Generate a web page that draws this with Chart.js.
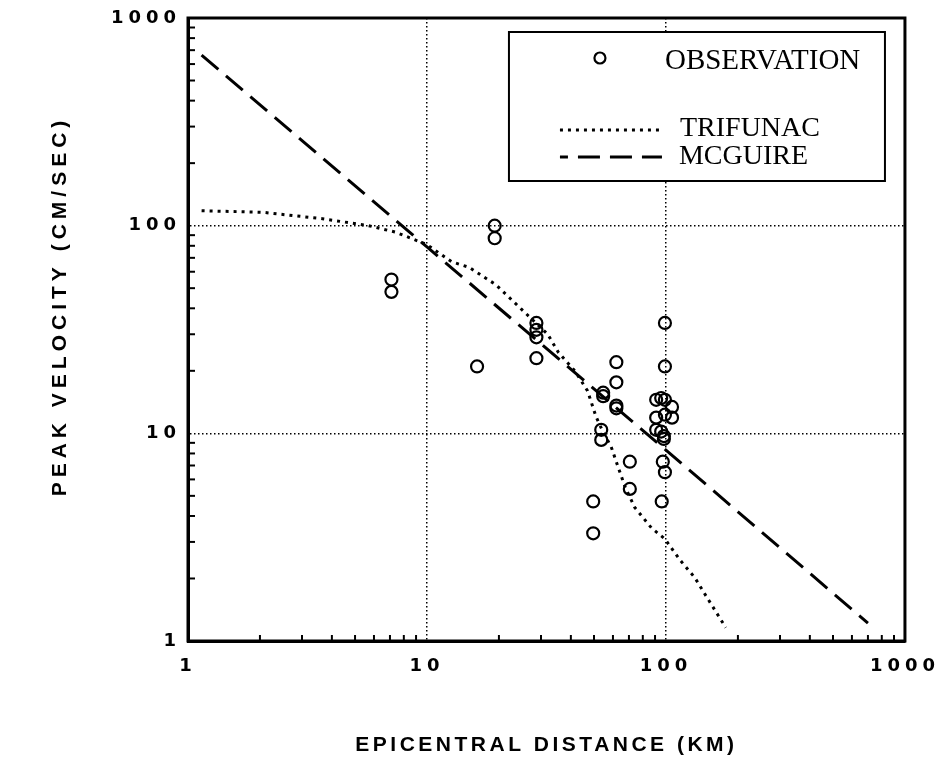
<!DOCTYPE html>
<html>
<head>
<meta charset="utf-8">
<script src="https://cdn.jsdelivr.net/npm/chart.js@4"></script>
<style>
  html, body { margin: 0; padding: 0; background: #fff; }
</style>
</head>
<body>
<canvas id="chart" width="945" height="772"></canvas>
<script>
// observed peak velocities
const obsDist = [7.1, 7.1, 19.2, 19.2, 16.2, 28.7, 28.7, 28.7, 28.7, 49.6, 49.6, 53.6, 53.6, 54.6, 54.6,
  62, 62, 62, 62, 70.6, 70.6, 99, 99, 91, 95.5, 99, 106, 91, 99, 106, 91, 95.5, 98, 98, 97, 99, 96];
const obsVel = [55, 48, 100, 87, 21, 34, 31.5, 29, 23, 4.7, 3.3, 10.4, 9.3, 15.7, 15.1,
  22, 17.6, 13.6, 13.2, 7.3, 5.4, 34, 21, 14.5, 14.8, 14.5, 13.4, 11.9, 12.3, 11.9, 10.4, 10.2, 9.7, 9.4, 7.3, 6.5, 4.7];

// attenuation relations
const trifunacDist = [1.14, 2.05, 3.65, 5.7, 7.4, 10, 12.7, 15, 19.4, 24.9, 32, 35.5, 41.8, 47, 51, 54,
  59, 63, 67.5, 74, 87, 99, 115, 132, 147, 178];
const trifunacVel = [118, 116, 108, 100, 93, 81, 67, 63, 52, 39.5, 30, 24.5, 19.8, 16, 12, 10.4,
  8.6, 6.9, 5.5, 4.4, 3.5, 3.1, 2.44, 2.02, 1.65, 1.16];
const mcguireDist = [1.14, 10, 100, 700];
const mcguireVel = [662, 79, 8.3, 1.22];

const tickValues = [1, 10, 100, 1000];
const seriesNames = ["OBSERVATION", "TRIFUNAC", "MCGUIRE"];
const xTitle = "EPICENTRAL DISTANCE (KM)";
const yTitle = "PEAK VELOCITY (CM/SEC)";

const toXY = (xs, ys) => xs.map((x, i) => ({ x: x, y: ys[i] }));

const dotDash = [3, 5];
const longDash = [22, 10];

// grid only at 10 and 100, dotted
const gridColor = (c) => (c.tick && (c.tick.value === 10 || c.tick.value === 100)) ? "#000" : "rgba(0,0,0,0)";

const paperPlugin = {
  id: "paper",
  beforeDraw(chart) {
    chart.ctx.letterSpacing = "3.5px";
  },
  afterDatasetsDraw(chart) {
    chart.ctx.letterSpacing = "5px";
  },
  afterDraw(chart) {
    const ctx = chart.ctx;
    const { left, right, top, bottom } = chart.chartArea;
    const xs = chart.scales.x;
    const ys = chart.scales.y;

    // y axis title, drawn by hand so it can sit a bit above centre
    ctx.save();
    ctx.letterSpacing = "5px";
    ctx.fillStyle = "#000";
    ctx.font = 'bold 21px "Liberation Sans"';
    ctx.textAlign = "center";
    ctx.textBaseline = "middle";
    ctx.translate(60, 306);
    ctx.rotate(-Math.PI / 2);
    ctx.fillText(yTitle, 0, 0);
    ctx.restore();

    ctx.letterSpacing = "0px";
    ctx.save();
    ctx.strokeStyle = "#000";
    ctx.setLineDash([]);
    // minor ticks pointing inward
    ctx.lineWidth = 2;
    for (let d = 1; d < 1000; d *= 10) {
      for (let m = 2; m <= 9; m++) {
        const px = xs.getPixelForValue(d * m);
        ctx.beginPath();
        ctx.moveTo(px, bottom);
        ctx.lineTo(px, bottom - 6);
        ctx.stroke();
        const py = ys.getPixelForValue(d * m);
        ctx.beginPath();
        ctx.moveTo(left, py);
        ctx.lineTo(left + 7, py);
        ctx.stroke();
      }
    }
    // frame
    ctx.lineWidth = 3;
    ctx.strokeRect(left, top, right - left, bottom - top);

    // legend box
    const lx = right - 396, ly = top + 14, lw = 376, lh = 149;
    ctx.fillStyle = "#fff";
    ctx.fillRect(lx, ly, lw, lh);
    ctx.lineWidth = 2;
    ctx.strokeRect(lx, ly, lw, lh);

    ctx.lineWidth = 2.2;
    ctx.beginPath();
    ctx.arc(lx + 91, ly + 26, 5.5, 0, Math.PI * 2);
    ctx.stroke();

    ctx.lineWidth = 3;
    ctx.setLineDash(dotDash);
    ctx.beginPath();
    ctx.moveTo(lx + 51, ly + 98);
    ctx.lineTo(lx + 153, ly + 98);
    ctx.stroke();

    ctx.setLineDash(longDash);
    ctx.lineDashOffset = 14;
    ctx.beginPath();
    ctx.moveTo(lx + 51, ly + 125);
    ctx.lineTo(lx + 153, ly + 125);
    ctx.stroke();
    ctx.setLineDash([]);

    ctx.fillStyle = "#000";
    ctx.textBaseline = "alphabetic";
    ctx.textAlign = "left";
    ctx.font = '29px "Liberation Serif"';
    ctx.fillText(seriesNames[0], lx + 156, ly + 37);
    ctx.font = '28px "Liberation Serif"';
    ctx.fillText(seriesNames[1], lx + 171, ly + 104);
    ctx.fillText(seriesNames[2], lx + 170, ly + 132);
    ctx.restore();
  }
};

const ctx = document.getElementById("chart").getContext("2d");

new Chart(ctx, {
  type: "scatter",
  data: {
    datasets: [
      {
        label: seriesNames[0],
        data: toXY(obsDist, obsVel),
        pointStyle: "circle",
        pointRadius: 6,
        borderColor: "#000",
        borderWidth: 2.2,
        backgroundColor: "rgba(0,0,0,0)"
      },
      {
        label: seriesNames[1],
        data: toXY(trifunacDist, trifunacVel),
        showLine: true,
        pointRadius: 0,
        borderColor: "#000",
        borderWidth: 3,
        borderDash: dotDash,
        fill: false
      },
      {
        label: seriesNames[2],
        data: toXY(mcguireDist, mcguireVel),
        showLine: true,
        pointRadius: 0,
        borderColor: "#000",
        borderWidth: 3,
        borderDash: longDash,
        fill: false
      }
    ]
  },
  options: {
    responsive: false,
    animation: false,
    devicePixelRatio: 1,
    layout: { padding: { left: 48, top: 18, right: 37, bottom: 0 } },
    plugins: {
      legend: { display: false },
      tooltip: { enabled: false }
    },
    scales: {
      x: {
        type: "logarithmic",
        position: "bottom",
        min: 1,
        max: 1000,
        afterBuildTicks: (s) => { s.ticks = tickValues.map((v) => ({ value: v })); },
        afterFit: (s) => { s.height = 131; },
        ticks: {
          callback: (v) => String(v),
          color: "#000",
          font: { family: "DejaVu Sans", weight: "bold", size: 18 },
          padding: 15,
          maxRotation: 0,
          autoSkip: false,
          z: 1
        },
        grid: { color: gridColor, lineWidth: 1.5, drawTicks: false },
        border: { display: true, color: "#000", width: 3, dash: [1.5, 2.5] },
        title: {
          display: true,
          text: xTitle,
          color: "#000",
          font: { family: "Liberation Sans", weight: "bold", size: 21 },
          padding: { top: 0, bottom: 14 }
        }
      },
      y: {
        type: "logarithmic",
        position: "left",
        min: 1,
        max: 1000,
        afterBuildTicks: (s) => { s.ticks = tickValues.map((v) => ({ value: v })); },
        afterFit: (s) => { s.width = 140; },
        ticks: {
          callback: (v) => String(v),
          color: "#000",
          font: { family: "DejaVu Sans", weight: "bold", size: 18 },
          padding: 7,
          autoSkip: false,
          z: 1
        },
        grid: { color: gridColor, lineWidth: 1.5, drawTicks: false },
        border: { display: true, color: "#000", width: 3, dash: [1.5, 2.5] },
        title: { display: false }
      }
    }
  },
  plugins: [paperPlugin]
});
</script>
</body>
</html>
